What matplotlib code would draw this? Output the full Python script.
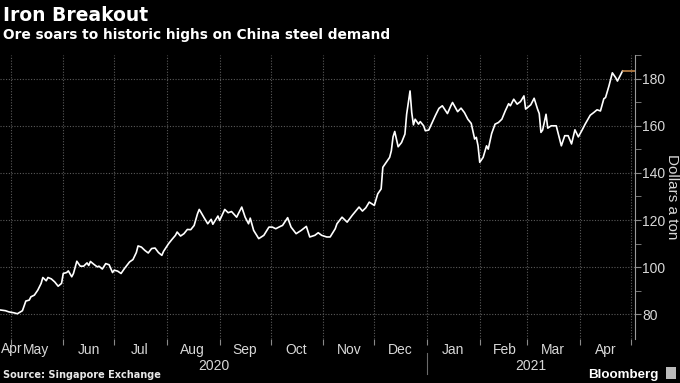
import matplotlib.pyplot as plt
import matplotlib.transforms as mtransforms
import pandas as pd

# iron ore price, dollars a ton; days counted from 2020-05-01
start = pd.Timestamp('2020-05-01')
day_offsets = [
    -6, -3, -1, 2, 4, 7, 9, 11, 12, 14,
    16, 18, 19, 21, 22, 24, 26, 28, 30, 31,
    33, 34, 36, 37, 39, 41, 43, 45, 46, 47,
    49, 51, 52, 54, 56, 58, 60, 61, 63, 65,
    67, 70, 72, 74, 75, 77, 79, 81, 83, 85,
    87, 89, 90, 93, 95, 97, 98, 100, 102, 104,
    106, 108, 110, 111, 112, 114, 116, 118, 119, 122,
    123, 126, 128, 130, 133, 134, 136, 138, 140, 141,
    143, 146, 149, 152, 154, 156, 159, 160, 163, 165,
    168, 171, 174, 176, 179, 181, 183, 186, 188, 191,
    192, 195, 198, 201, 205, 207, 209, 211, 214, 216,
    218, 219, 221, 223, 224, 225, 226, 228, 230, 232,
    233, 235, 236, 237, 238, 240, 241, 243, 244, 246,
    248, 250, 252, 254, 257, 259, 260, 263, 265, 267,
    269, 271, 273, 274, 275, 276, 278, 280, 281, 283,
    285, 287, 289, 291, 293, 294, 296, 298, 300, 302,
    303, 306, 308, 310, 311, 312, 313, 315, 316, 318,
    321, 324, 326, 328, 330, 332, 334, 336, 338, 341,
    343, 345, 347, 349, 350, 352, 354, 356, 357, 360,
]
price = [
    81.8, 81.5, 81.0, 80.6, 80.2, 81.5, 85.6, 86.0, 87.4, 88.1,
    90.2, 93.1, 95.6, 94.2, 95.6, 95.0, 93.7, 91.9, 93.1, 97.3,
    97.7, 98.4, 95.9, 97.3, 102.5, 100.4, 100.4, 101.8, 100.7, 102.4,
    101.2, 100.1, 100.4, 99.2, 101.5, 101.0, 97.7, 98.7, 98.3, 97.3,
    99.4, 102.2, 103.2, 106.2, 109.0, 108.5, 107.1, 106.0, 107.9, 108.1,
    106.2, 105.0, 106.7, 110.0, 111.8, 113.5, 114.9, 113.2, 114.2, 116.0,
    115.9, 117.7, 122.7, 124.5, 123.3, 120.8, 118.4, 120.3, 118.2, 121.7,
    119.8, 124.5, 123.1, 123.6, 121.2, 122.7, 125.5, 121.2, 118.4, 120.8,
    115.6, 112.1, 113.5, 117.0, 117.0, 116.3, 117.4, 117.7, 121.0, 117.0,
    114.2, 115.6, 117.3, 112.8, 113.5, 114.6, 113.5, 112.8, 112.8, 116.3,
    118.4, 121.2, 119.1, 122.0, 125.5, 123.8, 125.2, 127.6, 126.2, 131.1,
    133.2, 142.4, 144.5, 146.6, 149.4, 155.3, 157.6, 151.1, 152.9, 156.5,
    164.9, 174.8, 165.6, 160.4, 162.8, 160.7, 161.8, 160.0, 157.9, 158.2,
    161.4, 164.5, 167.4, 168.5, 165.2, 168.5, 169.9, 166.0, 167.5, 165.6,
    162.8, 161.0, 154.4, 155.1, 151.5, 144.5, 146.6, 151.5, 150.1, 156.7,
    160.7, 161.4, 162.8, 166.3, 169.4, 168.5, 171.3, 169.2, 170.3, 172.7,
    167.1, 168.9, 171.7, 167.1, 165.2, 157.2, 158.2, 164.9, 159.0, 160.0,
    160.0, 151.5, 155.8, 155.8, 152.3, 158.3, 155.3, 157.9, 160.7, 164.5,
    165.6, 166.8, 166.3, 171.5, 172.0, 176.9, 182.5, 180.4, 179.0, 183.3,
]
month_labels = ['May', 'Jun', 'Jul', 'Aug', 'Sep', 'Oct', 'Nov', 'Dec',
                'Jan', 'Feb', 'Mar', 'Apr']
y_ticks = [80, 100, 120, 140, 160, 180]

dates = start + pd.to_timedelta(day_offsets, unit='D')
x_left = start - pd.Timedelta(days=6.2)
x_right = start + pd.Timedelta(days=367.4)
month_starts = pd.date_range('2020-05-01', '2021-05-01', freq='MS')
mid_months = month_starts[:-1] + pd.Timedelta(days=15)
year_split = pd.Timestamp('2021-01-01')

lbl = '#d8d8d8'
tick_font = 'Liberation Sans'

fig = plt.figure(figsize=(6.8, 3.83), dpi=100, facecolor='black')
ax = fig.add_axes([0.0, 0.115, 0.934, 0.741])
ax.set_facecolor('black')

ax.plot(dates, price, color='white', lw=1.2)
# last value tag
ax.plot([dates[-1], x_right], [price[-1], price[-1]], color='#c08448', lw=1.2)

ax.set_xlim(x_left, x_right)
ax.set_ylim(69.5, 190)

for s in ['left', 'top', 'bottom']:
    ax.spines[s].set_visible(False)
ax.spines['right'].set_color('#9a9a9a')

ax.yaxis.tick_right()
ax.set_yticks(y_ticks)
ax.set_yticks([v + 10 for v in y_ticks], minor=True)
ax.tick_params(axis='y', which='both', colors='#8a8a8a', labelcolor=lbl,
               labelsize=10, length=4, pad=1)
for t in ax.get_yticklabels():
    t.set_family(tick_font)
fig.text(672 / 680, 1 - 197 / 383, 'Dollars a ton', rotation=-90, color=lbl,
         fontsize=11, family=tick_font, ha='center', va='center')

ax.set_xticks(month_starts)
ax.set_xticklabels([])
ax.set_xticks(mid_months, minor=True)
ax.set_xticklabels(month_labels, minor=True, family=tick_font)
ax.tick_params(axis='x', which='major', colors='#8a8a8a', length=4)
ax.tick_params(axis='x', which='minor', length=0, labelcolor=lbl,
               labelsize=10, pad=3)

ax.grid(True, which='major', linestyle=(0, (1, 1.5)), color='#5a5a5a', lw=0.8)

trans = mtransforms.blended_transform_factory(ax.transData, ax.transAxes)
ax.text(x_left + pd.Timedelta(days=0.8), -0.011, 'Apr', transform=trans, ha='left',
        va='top', color=lbl, fontsize=10, family=tick_font)
ax.text(x_left + (year_split - x_left) / 2, -0.095, '2020', transform=trans,
        ha='center', va='center', color=lbl, fontsize=10, family=tick_font)
ax.text(year_split + (x_right - year_split) / 2, -0.095, '2021', transform=trans,
        ha='center', va='center', color=lbl, fontsize=10, family=tick_font)
ax.plot([year_split, year_split], [-0.05, -0.125], transform=trans,
        color='#6a6a6a', lw=0.8, clip_on=False)

fig.text(0.004, 1 - 21 / 383, 'Iron Breakout', color='white', fontsize=13.5,
         weight='bold', va='baseline')
fig.text(0.004, 1 - 39.5 / 383, 'Ore soars to historic highs on China steel demand',
         color='white', fontsize=9.9, weight='bold', va='baseline')
fig.text(0.005, 0.012, 'Source: Singapore Exchange', color='#e8e8e8', fontsize=7,
         weight='bold', va='baseline')
fig.text(0.969, 0.012, 'Bloomberg', color='white', fontsize=9.6, weight='bold',
         family='Liberation Sans', va='baseline', ha='right')
fig.patches.append(plt.Rectangle((0.979, 0.01), 0.015, 0.032, transform=fig.transFigure,
                                 facecolor='#bbbbbb', edgecolor='none'))

fig.savefig('out.png', dpi=100, facecolor='black')
